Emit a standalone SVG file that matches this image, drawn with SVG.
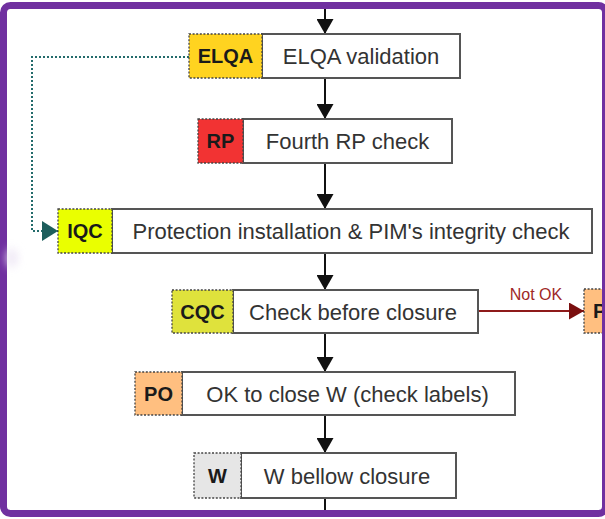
<svg xmlns="http://www.w3.org/2000/svg" width="605" height="519" viewBox="0 0 605 519">
  <defs>
    <style>
      .main { fill: #ffffff; stroke: #555555; stroke-width: 2; }
      .tag { stroke: #444444; stroke-width: 1.3; stroke-dasharray: 2 1.6; }
      .txt { font-family: "Liberation Sans", Arial, sans-serif; font-size: 22px; fill: #333333; text-anchor: middle; }
      .tagtxt { font-family: "Liberation Sans", Arial, sans-serif; font-size: 20px; font-weight: bold; fill: #1a1a1a; text-anchor: middle; }
      .flow { stroke: #111111; stroke-width: 2; fill: none; marker-end: url(#arrowBlack); }
      .back { stroke: #236b6b; stroke-width: 2; fill: none; stroke-dasharray: 2 2; marker-end: url(#arrowTeal); }
      .fail { stroke: #8e1a1a; stroke-width: 2; fill: none; marker-end: url(#arrowRed); }
      .faillbl { font-family: "Liberation Sans", Arial, sans-serif; font-size: 16px; fill: #a02828; text-anchor: middle; }
    </style>
    <marker id="arrowBlack" viewBox="0 0 15 17" refX="15" refY="8.5" markerWidth="15" markerHeight="17" markerUnits="userSpaceOnUse" orient="auto">
      <path d="M0,0 L15,8.5 L0,17 z" fill="#111111"/>
    </marker>
    <marker id="arrowTeal" viewBox="0 0 16 20" refX="16" refY="10" markerWidth="16" markerHeight="20" markerUnits="userSpaceOnUse" orient="auto">
      <path d="M0,0 L16,10 L0,20 z" fill="#1d5e5c"/>
    </marker>
    <marker id="arrowRed" viewBox="0 0 15 17" refX="15" refY="8.5" markerWidth="15" markerHeight="17" markerUnits="userSpaceOnUse" orient="auto">
      <path d="M0,0 L15,8.5 L0,17 z" fill="#7a0f0f"/>
    </marker>
    <filter id="soft" x="-1" y="-1" width="3" height="3">
      <feGaussianBlur stdDeviation="4"/>
    </filter>
  </defs>

  <rect x="0" y="0" width="605" height="519" fill="#ffffff"/>

  <!-- connectors -->
  <g id="connectors">
    <line class="flow" x1="325" y1="8" x2="325" y2="34"/>
    <line class="flow" x1="325" y1="78" x2="325" y2="119"/>
    <line class="flow" x1="325" y1="163" x2="325" y2="209"/>
    <line class="flow" x1="325" y1="253" x2="325" y2="290"/>
    <line class="flow" x1="325" y1="333" x2="325" y2="372"/>
    <line class="flow" x1="325" y1="415" x2="325" y2="453"/>
    <line stroke="#111111" stroke-width="2" x1="325" y1="498" x2="325" y2="512"/>
    <polyline class="back" points="189,57 32,57 32,231 58,231"/>
    <line class="fail" x1="478" y1="311" x2="584" y2="311"/>
    <text class="faillbl" x="536" y="300">Not OK</text>
  </g>

  <!-- process steps -->
  <g id="elqa">
    <rect class="main" x="262" y="34" width="198" height="44"/>
    <rect class="tag" x="189" y="34" width="73" height="44" fill="#ffd320"/>
    <text class="tagtxt" x="225.5" y="63">ELQA</text>
    <text class="txt" x="361" y="64">ELQA validation</text>
  </g>

  <g id="rp">
    <rect class="main" x="243" y="119" width="209" height="44"/>
    <rect class="tag" x="198" y="119" width="45" height="44" fill="#f23333"/>
    <text class="tagtxt" x="220.5" y="148">RP</text>
    <text class="txt" x="347.5" y="149">Fourth RP check</text>
  </g>

  <g id="iqc">
    <rect class="main" x="112" y="209" width="480" height="44"/>
    <rect class="tag" x="58" y="209" width="54" height="44" fill="#eaff00"/>
    <text class="tagtxt" x="85" y="238">IQC</text>
    <text class="txt" x="351" y="239">Protection installation &amp; PIM's integrity check</text>
  </g>

  <g id="cqc">
    <rect class="main" x="233" y="290" width="245" height="43"/>
    <rect class="tag" x="172" y="290" width="61" height="43" fill="#dfe23c"/>
    <text class="tagtxt" x="202.5" y="318.5">CQC</text>
    <text class="txt" x="353" y="319.5">Check before closure</text>
  </g>

  <g id="po">
    <rect class="main" x="182" y="372" width="333" height="43"/>
    <rect class="tag" x="135" y="372" width="47" height="43" fill="#ffbf80"/>
    <text class="tagtxt" x="158.5" y="400.5">PO</text>
    <text class="txt" x="347.5" y="401.5">OK to close W (check labels)</text>
  </g>

  <g id="w">
    <rect class="main" x="241" y="453" width="215" height="45"/>
    <rect class="tag" x="194" y="453" width="47" height="45" fill="#e6e6e6"/>
    <text class="tagtxt" x="217.5" y="482.5">W</text>
    <text class="txt" x="347" y="483.5">W bellow closure</text>
  </g>

  <g id="po-repair">
    <rect class="tag" x="584" y="289" width="40" height="44" fill="#ffbf80"/>
    <text class="tagtxt" x="593" y="318" text-anchor="start" style="text-anchor:start">P</text>
  </g>

  <!-- frame -->
  <rect x="3.5" y="5.5" width="602" height="508" rx="7" fill="none" stroke="#7030a0" stroke-width="7"/>
  <ellipse cx="12" cy="258" rx="6" ry="10" fill="#ece4f4" opacity="0.8" filter="url(#soft)"/>
</svg>
